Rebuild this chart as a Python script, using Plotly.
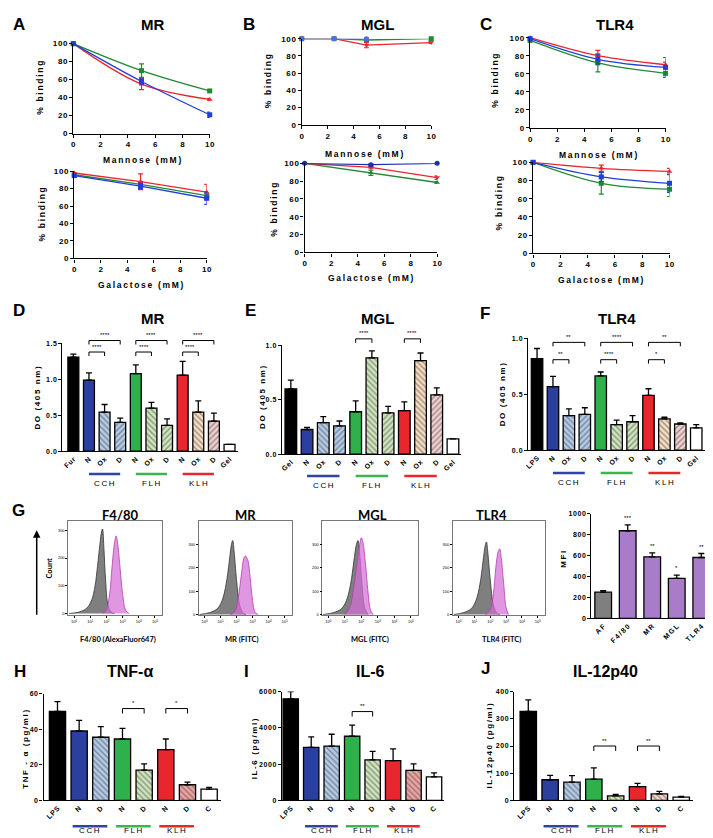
import plotly.graph_objects as go

W, H = 713, 838

def fx(p):
    return p / W

def fy(p):
    return 1 - p / H

def sp(s, ch="\u2009"):
    return ch.join(s)

ARIAL = "Liberation Sans, Arial, Helvetica, sans-serif"
CAL = "Lato, Open Sans, sans-serif"
RED, GREEN, BLUE = "#e8262d", "#1f8a34", "#1f3fd9"

# ======================= DATA =======================
# --- A-C: % binding vs sugar concentration (mM)
conc3 = [0, 5, 10]
conc4 = [0, 2.5, 5, 10]
concB3 = [0, 2.5, 5]

A_man_green = [100, 70, 47.5]; A_man_green_err = [0, 7.5, 1.5]
A_man_red = [100, 55, 38];     A_man_red_err = [0, 6, 1]
A_man_blue = [100, 58, 21];    A_man_blue_err = [0, 3, 3]
A_gal_red = [98, 88, 76];      A_gal_red_err = [0, 9, 9]
A_gal_green = [96, 85, 72];    A_gal_green_err = [0, 3, 4]
A_gal_blue = [95, 83, 69];     A_gal_blue_err = [0, 3, 7]

B_man_green = [100, 100, 98.5, 100]; B_man_green_err = [0, 0, 1, 1.5]
B_man_red = [100, 100, 92.5, 95.5];  B_man_red_err = [0, 0, 3, 1]
B_man_blue = [100, 100, 100];        B_man_blue_err = [0, 0, 0]
B_gal_blue = [100, 98.5, 100];       B_gal_blue_err = [0, 1, 0.5]
B_gal_red = [100, 95.5, 84];         B_gal_red_err = [0, 1, 2]
B_gal_green = [100, 89.5, 78.5];     B_gal_green_err = [0, 3, 1]

C_man_red = [100, 80, 70];     C_man_red_err = [0, 6, 3]
C_man_blue = [99, 76, 67];     C_man_blue_err = [0, 5, 11]
C_man_green = [97, 72, 60.5];  C_man_green_err = [0, 10, 2]
C_gal_red = [100, 93.5, 90];   C_gal_red_err = [0, 3.5, 3.5]
C_gal_blue = [100, 84, 77];    C_gal_blue_err = [0, 5, 10]
C_gal_green = [100, 77, 70.5]; C_gal_green_err = [0, 12, 8]

binding_ticks = [0, 20, 40, 60, 80, 100]
conc_ticks = [0, 2, 4, 6, 8, 10]

# --- D-F: ELISA binding (DO 405 nm)
D_labels = ["Fur", "N", "Ox", "D", "N", "Ox", "D", "N", "Ox", "D", "Gel"]
D_vals = [1.31, 0.99, 0.545, 0.40, 1.08, 0.60, 0.36, 1.06, 0.545, 0.42, 0.095]
D_errs = [0.04, 0.10, 0.105, 0.06, 0.12, 0.08, 0.09, 0.19, 0.155, 0.11, 0.0]
E_labels = ["Gel", "N", "Ox", "D", "N", "Ox", "D", "N", "Ox", "D", "Gel"]
E_vals = [0.60, 0.227, 0.29, 0.26, 0.39, 0.885, 0.38, 0.40, 0.86, 0.545, 0.14]
E_errs = [0.08, 0.02, 0.055, 0.045, 0.10, 0.065, 0.06, 0.08, 0.07, 0.065, 0.0]
F_labels = ["LPS", "N", "Ox", "D", "N", "Ox", "D", "N", "Ox", "D", "Gel"]
F_vals = [0.82, 0.57, 0.31, 0.32, 0.665, 0.23, 0.255, 0.49, 0.28, 0.235, 0.20]
F_errs = [0.09, 0.09, 0.06, 0.06, 0.035, 0.04, 0.055, 0.06, 0.015, 0.01, 0.03]
groups = ["CCH", "FLH", "KLH"]

# --- G: flow cytometry histograms (x = log10 fluorescence, y = count)
F480_gray_x = [-0.3, 0.3, 0.8, 1.1, 1.3, 1.45, 1.6, 1.7, 1.76, 1.85, 1.95, 2.1, 2.3, 2.5]
F480_gray_y = [0, 5, 20, 50, 100, 170, 250, 295, 305, 230, 120, 30, 5, 0]
F480_mag_x = [1.8, 2.0, 2.2, 2.35, 2.5, 2.6, 2.7, 2.85, 3.0, 3.2, 3.4]
F480_mag_y = [0, 15, 70, 170, 255, 280, 250, 160, 70, 10, 0]
MR_gray_x = [-0.3, 0.3, 0.8, 1.1, 1.35, 1.55, 1.68, 1.76, 1.85, 2.0, 2.2, 2.4, 2.6]
MR_gray_y = [0, 8, 25, 60, 130, 230, 300, 318, 270, 150, 40, 8, 0]
MR_mag_x = [1.6, 1.9, 2.1, 2.3, 2.45, 2.55, 2.7, 2.85, 3.0, 3.15, 3.35]
MR_mag_y = [0, 15, 70, 170, 240, 252, 235, 160, 60, 10, 0]
MGL_gray_x = [-0.3, 0.3, 0.8, 1.1, 1.35, 1.55, 1.7, 1.8, 1.9, 2.05, 2.2, 2.4]
MGL_gray_y = [0, 8, 25, 60, 130, 230, 300, 318, 260, 120, 30, 0]
MGL_mag_x = [1.0, 1.3, 1.55, 1.75, 1.9, 2.0, 2.1, 2.25, 2.4, 2.55, 2.7]
MGL_mag_y = [0, 30, 120, 230, 300, 330, 310, 220, 100, 20, 0]
TLR4_gray_x = [-0.3, 0.3, 0.8, 1.1, 1.35, 1.55, 1.68, 1.76, 1.85, 2.0, 2.2, 2.4, 2.6]
TLR4_gray_y = [0, 8, 25, 60, 130, 230, 295, 312, 265, 150, 40, 8, 0]
TLR4_mag_x = [1.7, 2.0, 2.2, 2.35, 2.5, 2.6, 2.7, 2.85, 3.0, 3.15]
TLR4_mag_y = [0, 20, 90, 200, 270, 282, 240, 130, 30, 0]
hist_xticks = [0, 1, 2, 3, 4, 5]
hist_xticktext = ["10<sup>%d</sup>" % k for k in hist_xticks]
hist_yticks = [0, 100, 200, 300]

MFI_labels = ["AF", "F4/80", "MR", "MGL", "TLR4"]
MFI_vals = [250, 836, 587, 381, 581]
MFI_errs = [15, 56, 38, 31, 38]
MFI_stars = ["", "***", "**", "*", "**"]

# --- H-J: cytokines
cyt_labels = ["LPS", "N", "D", "N", "D", "N", "D", "C"]
TNF_vals = [50, 39, 35.5, 34.5, 17, 28.5, 8.8, 6.3]
TNF_errs = [5.5, 6, 6, 6, 3.5, 6, 1.5, 1]
IL6_vals = [5600, 2930, 3000, 3540, 2240, 2200, 1660, 1300]
IL6_errs = [400, 570, 650, 610, 470, 640, 360, 220]
IL12_vals = [327, 76, 67, 78, 17, 51, 24, 12]
IL12_errs = [43, 16, 24, 42, 5, 12, 9, 3]

# ======================= FIGURE =======================
fig = go.Figure()
layout = {}
shapes = []
annotations = []
P = {}


def sfx(n):
    return "" if n == 1 else str(n)


AX_BASE = dict(showgrid=False, zeroline=False, showline=True, linecolor="black",
               linewidth=1.4, ticks="outside", ticklen=3, tickwidth=1.2,
               tickcolor="black", fixedrange=True)


def tfont(size=8, bold=True, family=ARIAL):
    return dict(family=family, size=size, color="black",
                weight="bold" if bold else "normal")


def add_axes(n, xpx, ypx, xr, yr, xo=None, yo=None):
    P[n] = dict(xpx=xpx, ypx=ypx, xr=xr, yr=yr)
    xa = dict(AX_BASE)
    xa.update(domain=[fx(xpx[0]), fx(xpx[1])], range=xr, anchor="y" + sfx(n))
    ya = dict(AX_BASE)
    ya.update(domain=[fy(ypx[1]), fy(ypx[0])], range=yr, anchor="x" + sfx(n))
    if xo:
        xa.update(xo)
    if yo:
        ya.update(yo)
    layout["xaxis" + sfx(n)] = xa
    layout["yaxis" + sfx(n)] = ya


def ypix(n, v):
    p = P[n]
    top, bot = p["ypx"]
    lo, hi = p["yr"]
    return bot - (v - lo) / (hi - lo) * (bot - top)


def text(t, x, y, size=9, bold=True, family=ARIAL, angle=0, xanchor="center",
         yanchor="middle", color="black"):
    annotations.append(dict(text=("<b>%s</b>" % t) if bold else t, x=fx(x), y=fy(y),
                            xref="paper", yref="paper", showarrow=False, textangle=angle,
                            xanchor=xanchor, yanchor=yanchor,
                            font=dict(family=family, size=size, color=color)))


def bracket(n, i0, i1, v, label, leg=4, size=6):
    yp = ypix(n, v)
    xr = "x" + sfx(n)
    for a, b, c, d in [(i0, yp, i1, yp), (i0, yp, i0, yp + leg), (i1, yp, i1, yp + leg)]:
        shapes.append(dict(type="line", xref=xr, yref="paper", x0=a, x1=c,
                           y0=fy(b), y1=fy(d), line=dict(color="black", width=1)))
    annotations.append(dict(text=label, x=(i0 + i1) / 2, y=fy(yp - 0.5), xref=xr,
                            yref="paper", yanchor="bottom", showarrow=False,
                            font=dict(family=ARIAL, size=size, color="black")))


def group_line(n, i0, i1, color, yline, label, ylab):
    xr = "x" + sfx(n)
    shapes.append(dict(type="line", xref=xr, yref="paper", x0=i0, x1=i1,
                       y0=fy(yline), y1=fy(yline), line=dict(color=color, width=2.5)))
    annotations.append(dict(text=sp(label), x=(i0 + i1) / 2, y=fy(ylab), xref=xr,
                            yref="paper", showarrow=False,
                            font=dict(family=ARIAL, size=8, color="black")))


def curve(n, xs, ys, errs, color, symbol, shape="spline"):
    fig.add_trace(go.Scatter(
        x=xs, y=ys, mode="lines+markers",
        line=dict(color=color, width=1.3, shape=shape),
        marker=dict(symbol=symbol, size=5, color=color),
        error_y=dict(type="data", array=errs, color=color, thickness=1.2, width=2.5),
        cliponaxis=False, xaxis="x" + sfx(n), yaxis="y" + sfx(n),
        showlegend=False, hoverinfo="skip"))


def add_bars(n, vals, errs, fills, pats, fgs, width):
    fig.add_trace(go.Bar(
        x=list(range(len(vals))), y=vals, width=width,
        marker=dict(color=fills, line=dict(color="black", width=1.3),
                    pattern=dict(shape=pats, fgcolor=fgs, bgcolor=fills,
                                 fillmode="overlay", size=4, solidity=0.35)),
        error_y=dict(type="data", symmetric=False, array=errs,
                     arrayminus=[0] * len(vals), color="black", thickness=1.3, width=3),
        xaxis="x" + sfx(n), yaxis="y" + sfx(n), showlegend=False, hoverinfo="skip"))


def hist(n, xs, ys, fill, line):
    fig.add_trace(go.Scatter(
        x=xs, y=ys, mode="lines", fill="tozeroy", fillcolor=fill,
        line=dict(color=line, width=0.8, shape="spline"),
        xaxis="x" + sfx(n), yaxis="y" + sfx(n), showlegend=False, hoverinfo="skip"))


# ---------- A-C line panels ----------
def line_axes(n, xpx, ypx):
    add_axes(n, xpx, ypx, [0, 10], [0, 100],
             xo=dict(tickvals=conc_ticks, ticktext=[sp(str(v), "\u200a") for v in conc_ticks],
                     tickfont=tfont(8)),
             yo=dict(tickvals=binding_ticks,
                     ticktext=[sp(str(v), "\u200a") for v in binding_ticks],
                     tickfont=tfont(8)))


line_axes(1, (63, 201), (32, 123))
line_axes(2, (64, 198), (161, 249))
line_axes(3, (294, 425), (27, 114))
line_axes(4, (297, 431), (153, 243))
line_axes(5, (525, 662), (26, 117))
line_axes(6, (528, 666), (152, 244))

curve(1, conc3, A_man_green, A_man_green_err, GREEN, "square")
curve(1, conc3, A_man_red, A_man_red_err, RED, "triangle-up")
curve(1, conc3, A_man_blue, A_man_blue_err, BLUE, "square")
curve(2, conc3, A_gal_green, A_gal_green_err, GREEN, "square", "linear")
curve(2, conc3, A_gal_red, A_gal_red_err, RED, "triangle-up", "linear")
curve(2, conc3, A_gal_blue, A_gal_blue_err, BLUE, "square", "linear")
curve(3, conc4, B_man_green, B_man_green_err, GREEN, "square", "linear")
curve(3, conc4, B_man_red, B_man_red_err, RED, "triangle-down", "linear")
curve(3, concB3, B_man_blue, B_man_blue_err, "#4a6cf0", "circle", "linear")
curve(4, conc3, B_gal_green, B_gal_green_err, GREEN, "triangle-up", "linear")
curve(4, conc3, B_gal_red, B_gal_red_err, RED, "triangle-down", "linear")
curve(4, conc3, B_gal_blue, B_gal_blue_err, "#1a2fb0", "circle", "linear")
curve(5, conc3, C_man_green, C_man_green_err, GREEN, "square")
curve(5, conc3, C_man_red, C_man_red_err, RED, "triangle-up")
curve(5, conc3, C_man_blue, C_man_blue_err, BLUE, "square")
curve(6, conc3, C_gal_green, C_gal_green_err, GREEN, "square")
curve(6, conc3, C_gal_red, C_gal_red_err, RED, "triangle-up")
curve(6, conc3, C_gal_blue, C_gal_blue_err, BLUE, "square")

for (x, y) in [(29, 77), (31, 205), (260, 70), (266, 200), (490, 70), (493, 193)]:
    text(sp("% binding"), x, y, size=8.5, angle=-90)
for (x, y) in [(132, 150), (357, 144), (594, 145)]:
    text(sp("Mannose (mM)"), x, y, size=8.5)
for (x, y) in [(131, 276), (364, 269), (597, 271)]:
    text(sp("Galactose (mM)"), x, y, size=8.5)

# ---------- D-F ELISA bars ----------
NAVY, GRN, RD = "#2b3f9e", "#2eb04b", "#e8262d"
LB, LBH = "#b3cbe8", "#1c2f6b"
LG, LGH = "#cfe6bd", "#1f5f2a"
PEA, PEAH = "#f7dcc0", "#5a3a20"
PNK, PNKH = "#f1d0d0", "#5a2a2a"
fills11 = ["#000000", NAVY, LB, LB, GRN, LG, LG, RD, PEA, PNK, "#ffffff"]
pats11 = ["", "", "\\", "/", "", "\\", "/", "", "\\", "/", ""]
fgs11 = ["#000", "#000", LBH, LBH, "#000", LGH, LGH, "#000", PEAH, PNKH, "#000"]


def bar_axes(n, xpx, ypx, xr, yr, labels, yticks, yticktext, angle=-45, fsize=7):
    add_axes(n, xpx, ypx, xr, yr,
             xo=dict(ticks="", tickvals=list(range(len(labels))),
                     ticktext=[sp(l, "\u200a") for l in labels], tickangle=angle,
                     tickfont=tfont(fsize)),
             yo=dict(tickvals=yticks, ticktext=[sp(t, "\u200a") for t in yticktext],
                     tickfont=tfont(7)))


bar_axes(7, (52, 230), (335, 444), [-0.70, 10.57], [0, 1.5], D_labels,
         [0, 0.5, 1.0, 1.5], ["0.0", "0.5", "1.0", "1.5"])
bar_axes(8, (274, 455), (337, 447), [-0.55, 10.49], [0, 1.0], E_labels,
         [0, 0.5, 1.0], ["0.0", "0.5", "1.0"])
bar_axes(9, (523, 703), (330, 443), [-0.56, 10.62], [0, 1.0], F_labels,
         [0, 0.5, 1.0], ["0.0", "0.5", "1.0"])
add_bars(7, D_vals, D_errs, fills11, pats11, fgs11, 0.7)
add_bars(8, E_vals, E_errs, fills11, pats11, fgs11, 0.72)
add_bars(9, F_vals, F_errs, fills11, pats11, fgs11, 0.72)

for g in range(3):
    b = 1 + 3 * g
    bracket(7, b, b + 1, 1.38, "****")
    bracket(7, b, b + 2, 1.54, "****")
bracket(8, 4, 5, 1.06, "****")
bracket(8, 7, 8, 1.06, "****")
for g, (lo, hi) in enumerate([("**", "**"), ("****", "****"), ("*", "**")]):
    b = 1 + 3 * g
    bracket(9, b, b + 1, 0.81, lo)
    bracket(9, b, b + 2, 0.965, hi)

gcolors = ["#2e44a8", "#3cb454", "#e8262d"]
for n, yl, yt in [(7, 467, 477), (8, 469, 479), (9, 466, 476)]:
    for g in range(3):
        b = 1 + 3 * g
        group_line(n, b, b + 2, gcolors[g], yl, groups[g], yt)

text(sp("DO (405 nm)"), 27, 390, size=8, angle=-90)
text(sp("DO (405 nm)"), 255, 390, size=8, angle=-90)
text(sp("DO (405 nm)"), 497, 387, size=8, angle=-90)

# ---------- G histograms ----------
GRAYF, GRAYL = "rgba(105,105,105,0.85)", "#333333"
MAGF, MAGL = "rgba(214,110,214,0.72)", "#b23cb2"


def hist_axes(n, xpx, yr):
    add_axes(n, xpx, (515, 610), [-0.35, 5.45], yr,
             xo=dict(tickvals=hist_xticks, ticktext=hist_xticktext, tickfont=tfont(4, False),
                     mirror=True, linecolor="#777", linewidth=0.9, ticklen=2, tickwidth=0.6),
             yo=dict(tickvals=hist_yticks, ticktext=[str(v) for v in hist_yticks],
                     tickfont=tfont(4, False), mirror=True, linecolor="#777",
                     linewidth=0.9, ticklen=2, tickwidth=0.6))


hist_axes(10, (58, 153), [-7, 332])
hist_axes(11, (190, 284), [-4, 400])
hist_axes(12, (315, 412), [-4, 400])
hist_axes(13, (447, 540), [-4, 400])
hist(10, F480_gray_x, F480_gray_y, GRAYF, GRAYL)
hist(10, F480_mag_x, F480_mag_y, MAGF, MAGL)
hist(11, MR_gray_x, MR_gray_y, GRAYF, GRAYL)
hist(11, MR_mag_x, MR_mag_y, MAGF, MAGL)
hist(12, MGL_gray_x, MGL_gray_y, GRAYF, GRAYL)
hist(12, MGL_mag_x, MGL_mag_y, MAGF, MAGL)
hist(13, TLR4_gray_x, TLR4_gray_y, GRAYF, GRAYL)
hist(13, TLR4_mag_x, TLR4_mag_y, MAGF, MAGL)

for t, x in [("F4/80", 110), ("MR", 237), ("MGL", 366), ("TLR4", 486)]:
    text(t, x, 508, size=13, family=CAL)
for t, x in [("F4/80 (AlexaFluor647)", 108), ("MR (FITC)", 234), ("MGL (FITC)", 363),
             ("TLR4 (FITC)", 496)]:
    text(t, x, 634, size=7.5, family=CAL)
text("Count", 39, 562, size=7.5, family=CAL, angle=-90)
annotations.append(dict(text="", x=fx(26), y=fy(524), xref="paper", yref="paper",
                        showarrow=True, ax=0, ay=86, arrowhead=2, arrowsize=1,
                        arrowwidth=1.5, arrowcolor="black"))

# MFI
add_axes(14, (587, 711), (507, 613), [-0.48, 4.52], [0, 1000],
         xo=dict(ticks="", tickvals=list(range(5)),
                 ticktext=[sp(l, "\u2009") for l in MFI_labels], tickangle=-45,
                 tickfont=tfont(7)),
         yo=dict(tickvals=[0, 200, 400, 600, 800, 1000],
                 ticktext=[sp(str(v), "\u200a") for v in [0, 200, 400, 600, 800, 1000]],
                 tickfont=tfont(7)))
PURP = "#a87cc9"
add_bars(14, MFI_vals, MFI_errs, ["#7f7f7f", PURP, PURP, PURP, PURP],
         [""] * 5, ["#000"] * 5, 0.68)
for i, s in enumerate(MFI_stars):
    if s:
        annotations.append(dict(text=s, x=i, y=fy(ypix(14, MFI_vals[i] + MFI_errs[i]) - 2),
                                xref="x14", yref="paper", yanchor="bottom", showarrow=False,
                                font=dict(family=ARIAL, size=6, color="black")))
text(sp("MFI"), 558, 553, size=8, angle=-90)

# ---------- H-J cytokines ----------
SAL, SALH = "#eea2a2", "#8b1a1a"
SAL2, SAL2H = "#f3d6cc", "#5a2a2a"
fills8 = ["#000000", NAVY, LB, GRN, LG, RD, SAL, "#ffffff"]
pats8 = ["", "", "\\", "", "\\", "", "\\", ""]
fgs8 = ["#000", "#000", LBH, "#000", LGH, "#000", SALH, "#000"]
fills8J = ["#000000", NAVY, LB, GRN, LG, RD, SAL2, "#ffffff"]
fgs8J = ["#000", "#000", LBH, "#000", LGH, "#000", SAL2H, "#000"]

bar_axes(15, (33, 212), (689, 797), [-0.64, 7.53], [0, 60], cyt_labels,
         [0, 20, 40, 60], ["0", "20", "40", "60"])
bar_axes(16, (274, 438), (687, 797), [-0.43, 7.49], [0, 6000], cyt_labels,
         [0, 2000, 4000, 6000], ["0", "2000", "4000", "6000"])
bar_axes(17, (509, 690), (687, 797), [-0.64, 7.55], [0, 400], cyt_labels,
         [0, 100, 200, 300, 400], ["0", "100", "200", "300", "400"])
add_bars(15, TNF_vals, TNF_errs, fills8, pats8, fgs8, 0.75)
add_bars(16, IL6_vals, IL6_errs, fills8, pats8, fgs8, 0.75)
add_bars(17, IL12_vals, IL12_errs, fills8J, pats8, fgs8J, 0.75)

bracket(15, 3, 4, 51.6, "*", leg=5)
bracket(15, 5, 6, 51.6, "*", leg=5)
bracket(16, 3, 4, 4900, "**", leg=5)
bracket(17, 3, 4, 200, "**", leg=5)
bracket(17, 5, 6, 200, "**", leg=5)

for n in (15, 16, 17):
    for g in range(3):
        b = 1 + 2 * g
        group_line(n, b - 0.3, b + 1 + 0.3, gcolors[g], 823, groups[g], 834)

text(sp("TNF - α (pg/ml)"), 15, 745, size=8, angle=-90)
text(sp("IL-6 (pg/ml)"), 247, 745, size=8, angle=-90)
text(sp("IL-12p40 (pg/ml)"), 483, 742, size=8, angle=-90)

# ---------- titles & panel letters ----------
for t, x, y in [("A", 8, 13), ("B", 241, 13), ("C", 480, 13), ("D", 8, 302),
                ("E", 242, 302), ("F", 479, 305), ("G", 8, 504), ("H", 9, 667),
                ("I", 238, 667), ("J", 480, 664)]:
    text(t, x, y, size=17)
for t, x, y in [("MR", 143, 13), ("MGL", 371, 13), ("TLR4", 611, 13),
                ("MR", 143, 310), ("MGL", 371, 310), ("TLR4", 613, 310)]:
    text(t, x, y, size=15)
for t, x in [("TNF-α", 120), ("IL-6", 364), ("IL-12p40", 601)]:
    text(t, x, 667, size=16)

fig.update_layout(width=W, height=H, margin=dict(l=0, r=0, t=0, b=0),
                  paper_bgcolor="white", plot_bgcolor="white", showlegend=False,
                  shapes=shapes, annotations=annotations, **layout)
fig.write_html("out.html")
